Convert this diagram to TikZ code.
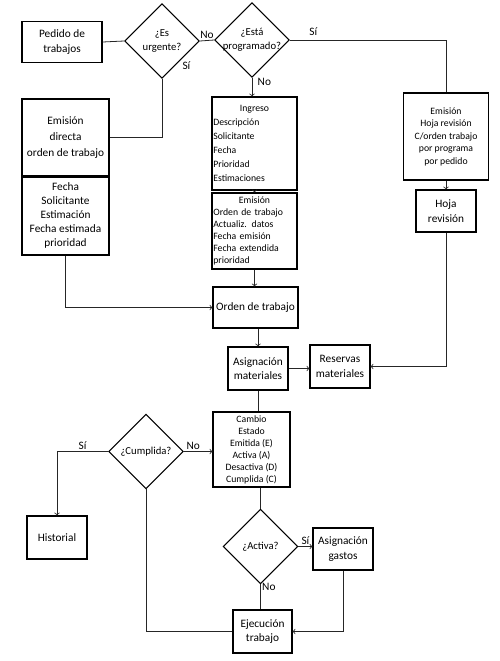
\documentclass[tikz,border=0pt]{standalone}
\usepackage{fontspec}
\setmainfont{Carlito}
\usetikzlibrary{shapes.geometric}
\newcommand\dtext[1]{\makebox[0pt]{\begin{tabular}{@{}c@{}}#1\end{tabular}}}
\begin{document}
\begin{tikzpicture}[x=0.75pt, y=-0.75pt,
    box/.style={draw, line width=0.8pt, align=center, inner sep=1pt,
      font=\fontsize{8.5}{11}\selectfont},
    listbox/.style={box, align=left, text width=61.75pt, minimum width=63.75pt},
    decision/.style={draw, line width=0.8pt, diamond, inner sep=0pt,
      minimum width=56pt, minimum height=56pt, font=\fontsize{8}{10.5}\selectfont},
    conn/.style={draw=black!85, line width=0.6pt},
    lbl/.style={font=\fontsize{8.5}{10}\selectfont, inner sep=1pt},
    >=to]
  \useasboundingbox (0,0) rectangle (500,661);
  % top row
  \node[box, minimum width=60pt, minimum height=30.75pt] (pedido) at (62,42) {Pedido de\\trabajos};
  \node[decision, label={[lbl]south east:Sí}] (urgente) at (162,41) {\dtext{¿Es\\urgente?}};
  \node[decision] (programado) at (252,40) {\dtext{¿Está\\programado?}};
  % left column
  \node[box, minimum width=65.25pt, minimum height=57.75pt, font=\fontsize{8.5}{12}\selectfont] (directa) at (65.5,137.5) {Emisión\\directa\\orden de trabajo};
  \node[box, minimum width=65.25pt, minimum height=59.25pt, font=\fontsize{8.5}{10.5}\selectfont] (fechaest) at (65.5,215.5) {Fecha\\Solicitante\\Estimación\\Fecha estimada\\prioridad};
  \draw[line width=1.6pt] (directa.south west) -- (directa.south east);
  % middle column
  \node[listbox, minimum height=69.75pt, font=\fontsize{7.3}{10.5}\selectfont] (ingreso) at (254.5,143.5) {\makebox[\linewidth]{Ingreso}\\Descripción\\Solicitante\\Fecha\\Prioridad\\Estimaciones};
  \node[listbox, minimum height=57pt, font=\fontsize{7.3}{9}\selectfont] (emisot) at (254.5,231) {\makebox[\linewidth]{Emisión}\\Orden de trabajo\\Actualiz. datos\\Fecha emisión\\Fecha extendida\\prioridad};
  \node[box, minimum width=63.75pt, minimum height=30.75pt] (orden) at (255.5,307.5) {Orden de trabajo};
  \node[box, minimum width=45pt, minimum height=32.25pt] (asigmat) at (258,368.5) {Asignación\\materiales};
  \node[box, minimum width=45pt, minimum height=32.25pt] (reservas) at (340,366.5) {Reservas\\materiales};
  % right column
  \node[box, minimum width=63.75pt, minimum height=65.25pt, font=\fontsize{7.3}{9.4}\selectfont] (emishoja) at (446,136.5) {Emisión\\Hoja revisión\\C/orden trabajo\\por programa\\por pedido};
  \node[box, minimum width=45pt, minimum height=31.5pt] (hoja) at (446,211) {Hoja\\revisión};
  % bottom part
  \node[box, minimum width=57.75pt, minimum height=56.25pt, font=\fontsize{7.3}{9}\selectfont] (cambio) at (251.5,449.5) {Cambio\\Estado\\Emitida (E)\\Activa (A)\\Desactiva (D)\\Cumplida (C)};
  \node[decision] (cumplida) at (146,451.5) {\dtext{¿Cumplida?}};
  \node[box, minimum width=45pt, minimum height=32.25pt] (historial) at (57,537.5) {Historial};
  \node[decision] (activa) at (260.5,546.5) {\dtext{¿Activa?}};
  \node[box, minimum width=45pt, minimum height=31.5pt] (gastos) at (343,549) {Asignación\\gastos};
  \node[box, minimum width=44.25pt, minimum height=32.25pt] (ejecucion) at (262.5,631.5) {Ejecución\\trabajo};
  % connectors
  \draw[conn] (pedido.east) -- (urgente.west);
  \draw[conn] (urgente.east) -- node[lbl, above] {No} (programado.west);
  \draw[conn] (urgente.south) |- (directa.east);
  \draw[conn, ->] (programado.south) -- node[lbl, right, pos=0.2, xshift=3pt] {No} (programado.south |- ingreso.north);
  \draw[conn] (programado.east) -- node[lbl, above, pos=0.15, yshift=2pt] {Sí} (programado.east -| emishoja.north) -- (emishoja.north);
  \draw[conn, ->] (ingreso.south) -- (emisot.north);
  \draw[conn, ->] (emisot.south) -- (emisot.south |- orden.north);
  \draw[conn, ->] (fechaest.south) |- (orden.west);
  \draw[conn, ->] (asigmat.north |- orden.south) -- (asigmat.north);
  \draw[conn, ->] (asigmat.east) -- (asigmat.east -| reservas.west);
  \draw[conn, ->] (emishoja.south) -- (hoja.north);
  \draw[conn, ->] (hoja.south) |- (reservas.east);
  \draw[conn] (asigmat.south) -- (asigmat.south |- cambio.north);
  \draw[conn, ->] (cumplida.east) -- node[lbl, above, pos=0.33] {No} (cumplida.east -| cambio.west);
  \draw[conn, ->] (cumplida.west) -| node[lbl, above, pos=0.25] {Sí} (historial.north);
  \draw[conn] (activa.north |- cambio.south) -- (activa.north);
  \draw[conn, ->] (activa.east) -- node[lbl, above] {Sí} (activa.east -| gastos.west);
  \draw[conn] (activa.south) -- node[lbl, right, pos=0.1] {No} (activa.south |- ejecucion.north);
  \draw[conn, ->] (gastos.south) |- (ejecucion.east);
  \draw[conn] (ejecucion.west) -| (cumplida.south);
\end{tikzpicture}
\end{document}
